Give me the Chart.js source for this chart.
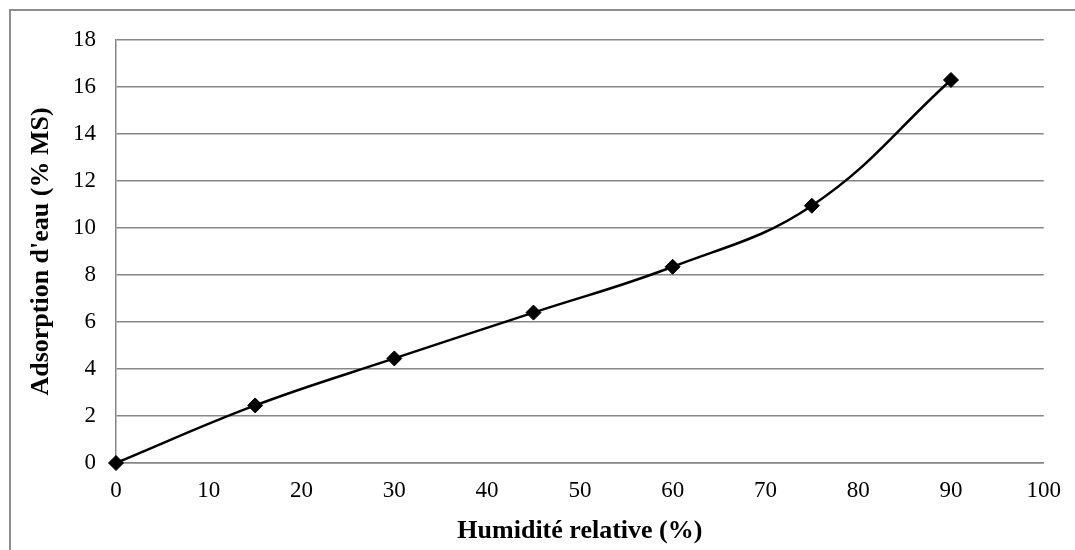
<!DOCTYPE html>
<html lang="fr">
<head>
<meta charset="utf-8">
<title>Adsorption d'eau</title>
<script src="https://cdn.jsdelivr.net/npm/chart.js@4.4.1/dist/chart.umd.min.js"></script>
<style>
    html, body { margin: 0; padding: 0; background: #ffffff; }
    #wrap { position: relative; width: 1075px; height: 550px; overflow: hidden; }
    #frame {
        position: absolute; left: 9px; top: 9px; width: 1100px; height: 600px;
        border-left: 2px solid #8e8e8e; border-top: 2px solid #8e8e8e;
    }
    #chart { position: absolute; left: 0; top: 0; }
</style>
</head>
<body>
<div id="wrap">
    <div id="frame"></div>
    <canvas id="chart" width="1075" height="550"></canvas>
</div>
<script>
const humidity = [0, 15, 30, 45, 60, 75, 90];
const adsorption = [0, 2.45, 4.45, 6.4, 8.35, 10.95, 16.3];

const xTitle = 'Humidité relative (%)';
const yTitle = "Adsorption d'eau (% MS)";

const gridColor = '#878787';
const serif = "'Liberation Serif', 'Times New Roman', serif";

Chart.defaults.font.family = serif;
Chart.defaults.color = '#000000';

new Chart(document.getElementById('chart'), {
    type: 'line',
    data: {
        datasets: [{
            label: yTitle,
            data: humidity.map((h, i) => ({ x: h, y: adsorption[i] })),
            borderColor: '#000000',
            borderWidth: 2.5,
            tension: 0.4,
            clip: false,
            pointStyle: 'rectRot',
            pointRadius: 7.5,
            pointBackgroundColor: '#000000',
            pointBorderColor: '#000000',
            pointBorderWidth: 1,
            fill: false,
        }],
    },
    options: {
        responsive: false,
        animation: false,
        layout: {
            padding: { left: 20, top: 40, right: 27, bottom: 0 },
        },
        plugins: {
            legend: { display: false },
            tooltip: { enabled: false },
        },
        scales: {
            x: {
                type: 'linear',
                min: 0,
                max: 100,
                ticks: {
                    stepSize: 10,
                    padding: 14,
                    maxRotation: 0,
                    font: { size: 23 },
                },
                grid: {
                    display: false,
                    drawTicks: false,
                },
                border: { color: gridColor, width: 1.5 },
                title: {
                    display: true,
                    text: xTitle,
                    font: { size: 26, weight: 'bold' },
                    padding: { top: 0, bottom: 3 },
                },
                afterFit: (scale) => { scale.height = 87; },
            },
            y: {
                min: 0,
                max: 18,
                ticks: {
                    stepSize: 2,
                    padding: 20,
                    font: { size: 23 },
                },
                grid: {
                    color: gridColor,
                    lineWidth: 1.5,
                    drawTicks: false,
                },
                border: { color: gridColor, width: 1.5 },
                title: {
                    display: true,
                    text: yTitle,
                    font: { size: 26, weight: 'bold' },
                    padding: { top: 6, bottom: 0 },
                },
                afterFit: (scale) => { scale.width = 96; },
            },
        },
    },
});
</script>
</body>
</html>
